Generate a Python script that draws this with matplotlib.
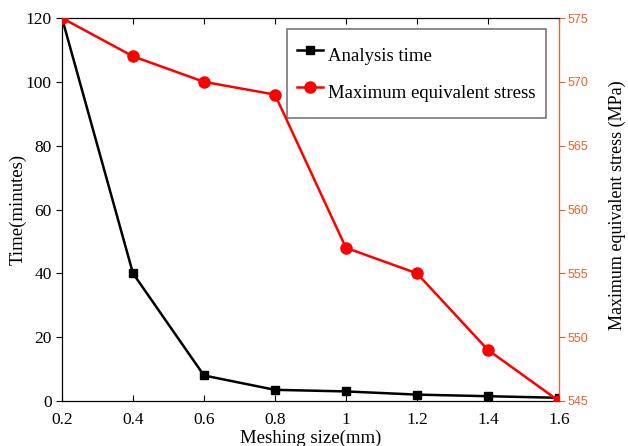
import numpy as np
import matplotlib.pyplot as plt

mesh_size = [0.2, 0.4, 0.6, 0.8, 1.0, 1.2, 1.4, 1.6]
analysis_time = [120, 40, 8, 3.5, 3, 2, 1.5, 1]
max_stress = [575, 572, 570, 569, 557, 555, 549, 545]

x_ticks = [0.2, 0.4, 0.6, 0.8, 1.0, 1.2, 1.4, 1.6]
x_tick_labels = ['0.2', '0.4', '0.6', '0.8', '1', '1.2', '1.4', '1.6']


def main():
    plt.rcParams['font.family'] = ['Liberation Serif', 'DejaVu Serif']
    orange = '#E8622C'

    fig = plt.figure(figsize=(6.28, 4.46), dpi=100)
    ax = fig.add_axes([0.0987, 0.1009, 0.7913, 0.8587])
    ax2 = ax.twinx()

    l1, = ax.plot(mesh_size, analysis_time, '-s', color='black', lw=1.8,
                  ms=6, label='Analysis time', zorder=3)
    l2, = ax2.plot(mesh_size, max_stress, '-o', color='red', lw=1.8,
                   ms=8, label='Maximum equivalent stress', zorder=3)

    ax.set_xlim(0.2, 1.6)
    ax.set_ylim(0, 120)
    ax2.set_ylim(545, 575)
    ax.set_xticks(x_ticks)
    ax.set_xticklabels(x_tick_labels)
    ax.set_yticks(np.arange(0, 121, 20))
    ax2.set_yticks(np.arange(545, 576, 5))

    ax.tick_params(axis='x', direction='in', top=True, labelsize=12.5, length=4,
                   pad=8)
    ax.tick_params(axis='y', direction='out', labelsize=12.5, length=4)
    ax2.tick_params(axis='y', direction='out', colors=orange, length=4,
                    labelsize=9, pad=2)
    for lab in ax2.get_yticklabels():
        lab.set_family('Liberation Sans')

    ax2.spines['right'].set_color(orange)

    ax.set_xlabel('Meshing size(mm)', fontsize=13.5)
    ax.xaxis.set_label_coords(0.5, -0.076)
    ax.set_ylabel('Time(minutes)', fontsize=13.5)
    ax.yaxis.set_label_coords(-0.072, 0.5)
    ax2.set_ylabel('Maximum equivalent stress (MPa)', fontsize=13)
    ax2.yaxis.set_label_coords(1.10, 0.51)

    leg = ax.legend([l1, l2], ['Analysis time', 'Maximum equivalent stress'],
                    loc='upper right', bbox_to_anchor=(0.974, 0.971),
                    fontsize=13.5, frameon=True, fancybox=False,
                    edgecolor='#555555', handlelength=1.4, handletextpad=0.27,
                    handleheight=2.2, borderpad=0.55, labelspacing=0.3,
                    borderaxespad=0)
    leg.get_frame().set_linewidth(1.2)

    fig.savefig('out.png', dpi=100)


if __name__ == "__main__":
    main()
